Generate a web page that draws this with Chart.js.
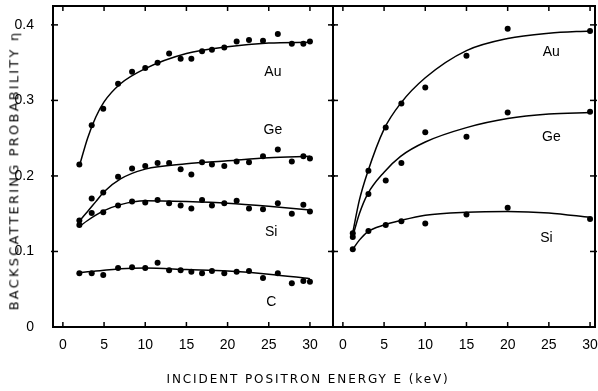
<!DOCTYPE html>
<html>
<head>
<meta charset="utf-8">
<script src="https://cdn.jsdelivr.net/npm/chart.js@4.4.1/dist/chart.umd.min.js"></script>
<style>
  html, body { margin:0; padding:0; background:#fff; }
  #wrap { position:relative; width:598px; height:391px; background:#fff; overflow:hidden; }
  canvas { position:absolute; top:0; }
  .ttl { position:absolute; font-family:"DejaVu Sans", sans-serif; font-size:12px; color:#000; white-space:nowrap; }
  #ytitle { letter-spacing:2.2px; font-size:13px; }
  #xtitle { letter-spacing:1.9px; }
</style>
</head>
<body>
<div id="wrap">
  <canvas id="left" width="340" height="391" style="left:0px"></canvas>
  <canvas id="right" width="272" height="391" style="left:326px"></canvas>
  <div class="ttl" id="ytitle">BACKSCATTERING PROBABILITY η</div>
  <div class="ttl" id="xtitle">INCIDENT POSITRON ENERGY E (keV)</div>
</div>
<script>
// ---------- data (left panel: measured points) ----------
const leftE   = [2, 3.5, 4.9, 6.7, 8.4, 10, 11.5, 12.9, 14.3, 15.6, 16.9, 18.1, 19.6, 21.1, 22.6, 24.3, 26.1, 27.8, 29.2, 30];
const auLeft  = [0.215, 0.267, 0.289, 0.322, 0.338, 0.343, 0.350, 0.362, 0.355, 0.355, 0.365, 0.367, 0.370, 0.378, 0.380, 0.379, 0.388, 0.375, 0.375, 0.378];
const geLeft  = [0.141, 0.170, 0.178, 0.199, 0.210, 0.213, 0.217, 0.217, 0.209, 0.202, 0.218, 0.215, 0.213, 0.219, 0.218, 0.226, 0.235, 0.219, 0.226, 0.223];
const siLeft  = [0.135, 0.151, 0.152, 0.161, 0.166, 0.165, 0.168, 0.164, 0.161, 0.157, 0.168, 0.161, 0.164, 0.167, 0.157, 0.156, 0.164, 0.150, 0.162, 0.153];
const cLeft   = [0.071, 0.071, 0.069, 0.078, 0.079, 0.078, 0.085, 0.075, 0.075, 0.073, 0.071, 0.074, 0.071, 0.073, 0.074, 0.065, 0.071, 0.058, 0.061, 0.060];

// left panel: fitted curves
const leftFitE = [2, 3, 4, 5, 7, 10, 15, 20, 25, 30];
const auFitL   = [0.213, 0.250, 0.278, 0.298, 0.322, 0.342, 0.362, 0.371, 0.376, 0.377];
const geFitL   = [0.140, 0.153, 0.166, 0.179, 0.196, 0.209, 0.216, 0.220, 0.224, 0.226];
const siFitL   = [0.133, 0.141, 0.148, 0.154, 0.162, 0.167, 0.166, 0.164, 0.160, 0.155];
const cFitL    = [0.072, 0.073, 0.074, 0.075, 0.077, 0.078, 0.076, 0.074, 0.070, 0.064];

// ---------- data (right panel) ----------
const rightE   = [1.2, 3.1, 5.2, 7.1, 10, 15, 20, 30];
const auRight  = [0.124, 0.207, 0.264, 0.296, 0.317, 0.359, 0.395, 0.392];
const geRight  = [0.119, 0.176, 0.194, 0.217, 0.258, 0.252, 0.284, 0.285];
const siRight  = [0.103, 0.127, 0.135, 0.140, 0.137, 0.149, 0.158, 0.143];

const rightFitE = [1.2, 2, 3, 5, 7, 10, 15, 20, 25, 30];
const auFitR    = [0.125, 0.168, 0.205, 0.262, 0.296, 0.330, 0.366, 0.382, 0.389, 0.392];
const geFitR    = [0.120, 0.150, 0.176, 0.205, 0.226, 0.245, 0.264, 0.276, 0.282, 0.284];
const siFitR    = [0.103, 0.115, 0.126, 0.135, 0.141, 0.148, 0.152, 0.153, 0.151, 0.145];

// ---------- tick labels ----------
const xTickValues = [0, 5, 10, 15, 20, 25, 30];
const yTickValues = [0, 0.1, 0.2, 0.3, 0.4];
const yTickLabels = ['0', '0.1', '0.2', '0.3', '0.4'];

// element names
const leftNames  = ['Au', 'Ge', 'Si', 'C'];
const rightNames = ['Au', 'Ge', 'Si'];

// ---------- helpers ----------
const pts = (xs, ys) => xs.map((x, i) => ({ x: x, y: ys[i] }));
const scatterSet = (xs, ys) => ({ data: pts(xs, ys), showLine: false, pointRadius: 3, pointHoverRadius: 3,
  pointBackgroundColor: '#000', pointBorderColor: '#000', pointBorderWidth: 0 });
const fitSet = (xs, ys) => ({ data: pts(xs, ys), showLine: true, pointRadius: 0, borderColor: '#000',
  borderWidth: 1.5, cubicInterpolationMode: 'monotone', fill: false });

Chart.defaults.font.family = '"Liberation Sans", Arial, sans-serif';
Chart.defaults.font.size = 14;
Chart.defaults.color = '#000';
Chart.defaults.animation = false;

const framePlugin = {
  id: 'frame',
  afterDatasetsDraw(chart, args, opts) {
    const { ctx, chartArea: a, scales: { x, y } } = chart;
    ctx.save();
    ctx.strokeStyle = '#000';
    ctx.lineWidth = 2;
    ctx.strokeRect(a.left, a.top, a.right - a.left, a.bottom - a.top);
    ctx.lineWidth = 1.5;
    const L = 5;
    const line = (x1, y1, x2, y2) => { ctx.beginPath(); ctx.moveTo(x1, y1); ctx.lineTo(x2, y2); ctx.stroke(); };
    xTickValues.forEach(v => {
      const px = x.getPixelForValue(v);
      line(px, a.bottom, px, a.bottom - L);
      line(px, a.top, px, a.top + L);
    });
    yTickValues.forEach(v => {
      if (v === 0) return;
      const py = y.getPixelForValue(v);
      line(a.left - 2, py, a.left + L, py);
      line(a.right - L, py, a.right + 2, py);
    });
    // element labels
    ctx.fillStyle = '#000';
    ctx.font = '14px "Liberation Sans", Arial, sans-serif';
    ctx.textAlign = 'center';
    ctx.textBaseline = 'middle';
    opts.names.forEach((n, i) => {
      const p = opts.anchors[i];
      ctx.fillText(n, x.getPixelForValue(p[0]), y.getPixelForValue(p[1]));
    });
    ctx.restore();
  }
};

function makeOptions(xmin, xmax, yWidth, padL, padR, showY, names, anchors) {
  return {
    responsive: false,
    animation: false,
    layout: { padding: { left: padL, right: padR, top: 6, bottom: 0 } },
    plugins: { legend: { display: false }, tooltip: { enabled: false }, frame: { names: names, anchors: anchors } },
    scales: {
      x: {
        type: 'linear', min: xmin, max: xmax,
        grid: { display: false, drawTicks: false }, border: { display: false },
        afterBuildTicks: s => { s.ticks = xTickValues.map(v => ({ value: v })); },
        ticks: { padding: 10, callback: v => String(v), maxRotation: 0, autoSkip: false },
        afterFit: s => { s.height = 64; s.paddingLeft = 0; s.paddingRight = 0; }
      },
      y: {
        type: 'linear', min: 0, max: 0.425,
        grid: { display: false, drawTicks: false }, border: { display: false },
        afterBuildTicks: s => { s.ticks = yTickValues.map(v => ({ value: v })); },
        ticks: { display: showY, padding: 19, autoSkip: false,
          callback: (v) => { const i = yTickValues.findIndex(t => Math.abs(t - v) < 1e-9); return i >= 0 ? yTickLabels[i] : ''; } },
        afterFit: s => { s.width = yWidth; s.paddingTop = 0; s.paddingBottom = 0; }
      }
    }
  };
}

new Chart(document.getElementById('left'), {
  type: 'line',
  data: { datasets: [
    scatterSet(leftE, auLeft), scatterSet(leftE, geLeft), scatterSet(leftE, siLeft), scatterSet(leftE, cLeft),
    fitSet(leftFitE, auFitL), fitSet(leftFitE, geFitL), fitSet(leftFitE, siFitL), fitSet(leftFitE, cFitL)
  ] },
  options: makeOptions(-1.2, 32.8, 53, 0, 7, true, leftNames,
    [[25.5, 0.338], [25.5, 0.261], [25.3, 0.125], [25.3, 0.033]]),
  plugins: [framePlugin]
});

new Chart(document.getElementById('right'), {
  type: 'line',
  data: { datasets: [
    scatterSet(rightE, auRight), scatterSet(rightE, geRight), scatterSet(rightE, siRight),
    fitSet(rightFitE, auFitR), fitSet(rightFitE, geFitR), fitSet(rightFitE, siFitR)
  ] },
  options: makeOptions(-1.2, 30.6, 0, 7, 1, false, rightNames,
    [[25.3, 0.364], [25.3, 0.252], [24.7, 0.118]]),
  plugins: [framePlugin]
});

// axis titles (real text)
const yt = document.getElementById('ytitle');
const xt = document.getElementById('xtitle');
yt.style.left = (14 - yt.offsetWidth / 2) + 'px';
yt.style.top = (170 - yt.offsetHeight / 2) + 'px';
yt.style.transform = 'rotate(-90deg)';
xt.style.left = (308 - xt.offsetWidth / 2) + 'px';
xt.style.top = (379 - xt.offsetHeight / 2) + 'px';
</script>
</body>
</html>
